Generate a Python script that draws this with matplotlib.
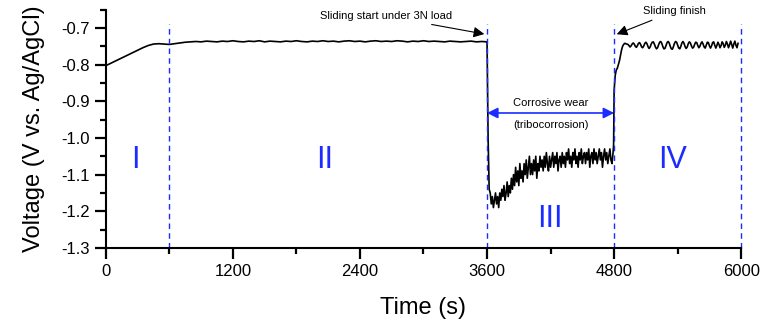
import numpy as np
import matplotlib.pyplot as plt
from matplotlib.ticker import MultipleLocator

plt.rcParams['font.family'] = ['Liberation Sans', 'DejaVu Sans']

# region I: open circuit before sliding (0-600 s)
t1 = np.arange(0, 601, 50)
v1 = [-0.803, -0.796, -0.789, -0.782, -0.775, -0.768, -0.761, -0.754, -0.748,
      -0.744, -0.743, -0.744, -0.745]

# region II: stable OCP (650-3600 s)
t2 = np.arange(650, 3601, 50)
v2 = [-0.743, -0.741, -0.739, -0.738, -0.737, -0.738, -0.736, -0.737, -0.738, -0.736,
      -0.737, -0.735, -0.737, -0.738, -0.736, -0.737, -0.735, -0.738, -0.736, -0.737,
      -0.738, -0.736, -0.737, -0.735, -0.737, -0.738, -0.736, -0.737, -0.735, -0.737,
      -0.736, -0.738, -0.736, -0.735, -0.737, -0.736, -0.738, -0.736, -0.735, -0.737,
      -0.736, -0.737, -0.735, -0.736, -0.738, -0.736, -0.737, -0.735, -0.737, -0.736,
      -0.737, -0.738, -0.736, -0.737, -0.738, -0.737, -0.736, -0.738, -0.737, -0.738]

# region III: sliding (tribocorrosion)
t3 = np.concatenate([[3610, 3620], np.arange(3630, 4791, 10), [4795]])
v3 = [-1.00, -1.14,
      -1.15, -1.18, -1.16, -1.19, -1.17, -1.15, -1.18, -1.16, -1.19, -1.15,
      -1.17, -1.14, -1.16, -1.13, -1.17, -1.15, -1.12, -1.16, -1.13, -1.15,
      -1.11, -1.14, -1.10, -1.13, -1.08, -1.12, -1.09, -1.13, -1.07, -1.11,
      -1.09, -1.12, -1.07, -1.10, -1.06, -1.11, -1.08, -1.05, -1.10, -1.07,
      -1.10, -1.06, -1.09, -1.05, -1.11, -1.07, -1.09, -1.05, -1.08, -1.06,
      -1.09, -1.05, -1.08, -1.04, -1.07, -1.09, -1.05, -1.08, -1.06, -1.04,
      -1.08, -1.05, -1.07, -1.04, -1.09, -1.06, -1.05, -1.08, -1.04, -1.07,
      -1.05, -1.08, -1.04, -1.06, -1.03, -1.07, -1.05, -1.08, -1.04, -1.06,
      -1.03, -1.07, -1.05, -1.08, -1.04, -1.06, -1.03, -1.07, -1.05, -1.04,
      -1.07, -1.04, -1.06, -1.03, -1.08, -1.05, -1.04, -1.07, -1.03, -1.06,
      -1.04, -1.07, -1.05, -1.03, -1.06, -1.04, -1.08, -1.05, -1.03, -1.06,
      -1.04, -1.07, -1.05, -1.03, -1.06, -1.07, -1.04,
      -1.02]

# region IV: after sliding
t4 = np.concatenate([np.arange(4800, 4921, 10), np.arange(4930, 5971, 10)])
v4 = [-0.87, -0.83, -0.815, -0.81, -0.80, -0.79, -0.775, -0.76, -0.75, -0.745,
      -0.742, -0.743, -0.744,
      -0.745, -0.748, -0.752, -0.749, -0.744, -0.741, -0.744, -0.750, -0.753, -0.748,
      -0.742, -0.740, -0.745, -0.752, -0.754, -0.749, -0.742, -0.739, -0.743, -0.751,
      -0.756, -0.752, -0.744, -0.739, -0.738, -0.744, -0.752, -0.757, -0.754, -0.746,
      -0.739, -0.737, -0.742, -0.751, -0.757, -0.756, -0.748, -0.740, -0.737, -0.741,
      -0.750, -0.757, -0.758, -0.751, -0.742, -0.737, -0.739, -0.747, -0.755, -0.757,
      -0.750, -0.741, -0.737, -0.742, -0.751, -0.756, -0.752, -0.743, -0.738, -0.741,
      -0.749, -0.755, -0.753, -0.745, -0.739, -0.740, -0.748, -0.754, -0.750, -0.742,
      -0.738, -0.744, -0.752, -0.755, -0.747, -0.739, -0.740, -0.749, -0.755, -0.749,
      -0.740, -0.738, -0.747, -0.755, -0.748, -0.739, -0.745, -0.754, -0.748, -0.738,
      -0.743, -0.753, -0.747, -0.737, -0.744, -0.754, -0.746, -0.736, -0.745, -0.755,
      -0.744, -0.736, -0.747, -0.754, -0.742]

t = np.concatenate([t1, t2, t3, t4])
v = np.concatenate([v1, v2, v3, v4])

boundaries = [600, 3600, 4800, 6000]
region_labels = ['I', 'II', 'III', 'IV']
label_x = [275, 2070, 4195, 5350]
label_y = [-1.06, -1.06, -1.22, -1.06]

blue = '#1a2cff'

fig = plt.figure(figsize=(7.61, 3.31), dpi=100)
ax = fig.add_axes([0.139, 0.251, 0.835, 0.72])

ax.plot(t, v, color='black', lw=1.2)

for b in boundaries:
    ax.plot([b, b], [-1.3, -0.69], color=blue, lw=1.0, ls=(0, (4, 3)), clip_on=False)

for lab, x, y in zip(region_labels, label_x, label_y):
    ax.text(x, y, lab, color=blue, fontsize=22, ha='center', va='center')

ax.annotate('Sliding start under 3N load', xy=(3600, -0.718), xytext=(3270, -0.668),
            fontsize=8, ha='right', va='center',
            arrowprops=dict(arrowstyle='-|>', color='black', lw=0.8, mutation_scale=16))
ax.annotate('Sliding finish', xy=(4800, -0.72), xytext=(5070, -0.655),
            fontsize=8, ha='left', va='center',
            arrowprops=dict(arrowstyle='-|>', color='black', lw=0.8, mutation_scale=16))

ax.annotate('', xy=(3600, -0.932), xytext=(4800, -0.932),
            arrowprops=dict(arrowstyle='<|-|>', color=blue, lw=1.2, mutation_scale=16,
                            shrinkA=0, shrinkB=0))
ax.text(4200, -0.905, 'Corrosive wear', fontsize=8, ha='center', va='center')
ax.text(4200, -0.965, '(tribocorrosion)', fontsize=8, ha='center', va='center')

ax.set_xlim(0, 6000)
ax.set_ylim(-1.3, -0.65)
ax.xaxis.set_major_locator(MultipleLocator(1200))
ax.xaxis.set_minor_locator(MultipleLocator(600))
ax.yaxis.set_minor_locator(MultipleLocator(0.05))
ax.set_yticks(np.arange(-1.3, -0.69, 0.1))
ax.set_yticklabels(['%.1f' % y for y in np.arange(-1.3, -0.69, 0.1)])

ax.spines['top'].set_visible(False)
ax.spines['right'].set_visible(False)
ax.spines['left'].set_linewidth(1.5)
ax.spines['bottom'].set_linewidth(1.5)
ax.tick_params(which='major', direction='out', length=8, width=1.6, labelsize=12)
ax.tick_params(which='minor', direction='out', length=4.5, width=1.6)

ax.set_xlabel('Time (s)', fontsize=17, labelpad=13)
ax.set_ylabel('Voltage (V vs. Ag/AgCl)', fontsize=17, labelpad=12)

fig.savefig('out.png', dpi=100)
